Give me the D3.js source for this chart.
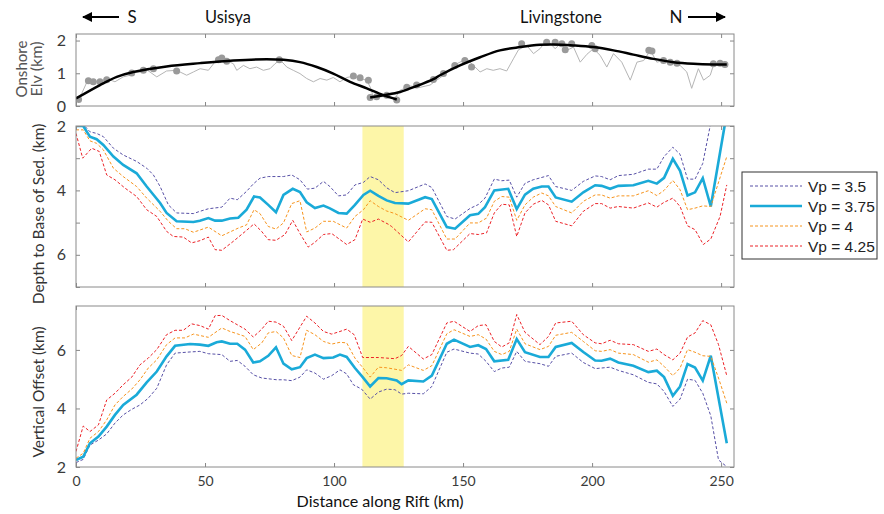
<!DOCTYPE html>
<html>
<head>
<meta charset="utf-8">
<script src="https://cdn.jsdelivr.net/npm/d3@7"></script>
<style>
  body { margin: 0; background: #fff; }
  svg text { font-family: Lato, "Noto Sans", sans-serif; fill: #333; }
  .tick line { stroke: #888; }
  .tick text { font-size: 14px; fill: #3a3a3a; font-family: Lato, "Noto Sans", sans-serif; }
</style>
</head>
<body>
<div id="chart"></div>
<script>
// Profil topo onshore (km, km)
const elevProfile = [[0,0.23],[2.2,0.38],[4.4,0.76],[6.7,0.74],[9.3,0.74],[11.9,0.84],[15.1,0.74],[18.3,0.89],[20.9,0.94],[22.2,1.04],[24.8,1.04],[27.4,1.11],[31.3,0.89],[35.1,1.07],[39,1.09],[42.9,0.94],[45.5,1.04],[48.1,1.14],[51.3,1.09],[54.5,1.41],[58.4,1.39],[61,1.29],[62.3,1.09],[64.9,1.24],[67.4,1.14],[70,1.19],[72.6,1.09],[75.2,1.14],[77.1,1.29],[79.1,1.41],[81.7,1.19],[84.2,1.09],[86.8,0.99],[89.4,0.84],[92,0.74],[94.6,0.84],[97.2,0.79],[99.7,0.87],[102.3,0.74],[104.9,0.87],[107.5,0.91],[110.1,0.84],[112.7,0.79],[114.6,0.48],[115,0.26],[118,0.28],[121,0.3],[123.5,0.22],[125.6,0.48],[129.5,0.61],[133.3,0.57],[137.2,0.64],[139.8,0.79],[143.7,1.01],[146.3,1.24],[148.8,1.34],[151.4,1.44],[154,1.24],[156.6,1.04],[159.2,1.14],[161.7,1.09],[164.3,1.14],[166.9,1.07],[169.5,1.44],[171.5,1.72],[174.7,1.85],[177.3,1.6],[179.8,1.75],[181.8,1.95],[183.7,1.92],[185.7,1.75],[187.6,1.9],[190.2,1.7],[192.8,1.8],[195.4,1.34],[198,1.58],[200.5,1.75],[203.1,1.55],[205.7,1.19],[208.3,1.6],[211.5,1.34],[214.8,0.79],[217.4,1.34],[220,1.39],[222.6,1.7],[225.1,1.34],[227.7,1.39],[231.5,1.34],[234.1,1.24],[236.7,1.04],[238.6,0.54],[241.2,1.14],[243.2,0.79],[245.8,0.94],[247,1.24],[249.6,1.29],[252.2,1.27]];

const elevDots = [[1,0.2],[4.8,0.77],[6.7,0.74],[9.3,0.74],[11.9,0.8],[21.6,1.01],[26.1,1.09],[30,1.14],[39,1.07],[55.2,1.41],[56.5,1.47],[58.4,1.37],[78.8,1.41],[107.5,0.92],[110.1,0.86],[113.3,0.79],[114,0.26],[116.5,0.28],[120.4,0.33],[124.3,0.18],[128.2,0.57],[132,0.64],[138.5,0.81],[142.4,0.99],[146.8,1.24],[150.7,1.39],[153.3,1.19],[172.7,1.9],[182.4,1.95],[185.7,1.95],[188.3,1.9],[189.6,1.72],[192.1,1.9],[199.9,1.85],[201.2,1.75],[222,1.7],[223.2,1.68],[227.7,1.39],[230.3,1.34],[232.9,1.31],[247,1.29],[249.6,1.31],[251.5,1.27]];

// Courbes lissées (Usisya, Livingstone)
const fitUsisya = [[0,0.23],[9.3,0.64],[15.8,0.89],[22.2,1.04],[35.1,1.21],[48.1,1.31],[61,1.39],[73.9,1.43],[80.4,1.41],[86.8,1.34],[93.3,1.19],[99.7,0.99],[106.2,0.74],[112.7,0.54],[119.1,0.33],[124.3,0.2]];
const fitLivingstone = [[114,0.26],[119.1,0.33],[125.6,0.43],[132,0.61],[138.5,0.82],[141.1,0.94],[148.8,1.24],[156.6,1.49],[164.3,1.7],[172.1,1.8],[179.8,1.87],[185,1.88],[192.8,1.85],[200.5,1.8],[208.3,1.7],[216,1.57],[223.8,1.44],[231.5,1.34],[239.3,1.29],[247,1.27],[252.2,1.27]];

// Profondeur de la base des sédiments (km)
const depth35 = [[0,1.95],[2.8,1.95],[5.4,2.18],[8,2.23],[10.6,2.33],[14.5,2.69],[18.3,2.9],[23.5,3.1],[27.4,3.31],[30,3.52],[32.6,3.88],[35.8,4.45],[39,4.7],[45.5,4.72],[48,4.65],[51.3,4.57],[56.5,4.52],[59.7,4.24],[62.5,4.29],[66.1,4.03],[68.7,3.8],[71.3,3.62],[74.5,3.57],[80.4,3.57],[83.6,3.52],[86.8,3.67],[89.7,3.96],[92.6,3.93],[95.9,3.72],[98.4,3.88],[101.7,4.17],[104.9,4.14],[108.1,3.83],[111.4,3.75],[114,3.57],[117.2,3.67],[120.4,3.92],[123.6,4.07],[128.8,4.01],[135.3,3.8],[137.9,3.91],[143.7,4.81],[146.9,4.89],[152.7,4.56],[155.9,4.44],[158.5,4.24],[162.1,3.65],[165,3.7],[167.9,3.68],[170.8,4.21],[174,3.78],[177.2,3.67],[183.1,3.54],[185.9,3.88],[192.1,4],[196.6,3.72],[201.2,3.55],[203.7,3.57],[207,3.67],[210.2,3.54],[216,3.5],[221.8,3.34],[225.1,3.34],[227.9,2.95],[231.3,2.66],[234.1,2.88],[237,3.65],[239.9,3.65],[242.9,3.16],[246,1.9],[252,1.0]];
const depth375 = [[0,2],[2.8,2],[5.4,2.33],[8,2.41],[10.6,2.59],[14.5,2.95],[18.3,3.21],[23.5,3.47],[27.4,3.88],[32.6,4.39],[35.1,4.7],[39,4.96],[45.5,4.98],[48,4.94],[51.3,4.86],[53.9,4.94],[56.5,4.94],[59.7,4.87],[62.9,4.85],[66.1,4.6],[69,4.19],[71.3,4.22],[74.5,4.45],[77.5,4.68],[80.4,4.14],[84,3.95],[86.8,4.05],[89.4,4.37],[92.6,4.55],[95.9,4.47],[98.4,4.56],[101.7,4.7],[104.9,4.72],[108.1,4.45],[111.4,4.14],[114,4.01],[117.2,4.17],[120.4,4.31],[123.6,4.39],[128.8,4.41],[135.3,4.21],[137.9,4.27],[143.7,5.14],[146.9,5.19],[152.7,4.77],[155.9,4.73],[158.5,4.52],[162.1,4],[167.5,3.95],[170.8,4.58],[174,4.13],[177.2,3.95],[180.5,3.88],[183.1,3.88],[185.9,4.22],[192.1,4.35],[196.6,4.06],[201.2,3.84],[203.7,3.86],[207,3.95],[210.2,3.86],[216,3.84],[221.8,3.7],[225.1,3.79],[227.9,3.61],[231.3,3.02],[234.1,3.39],[237,4.16],[239.9,4.06],[242.9,3.62],[246,4.5],[252,1.7]];
const depth40 = [[0,2.12],[2.8,2.12],[5.4,2.46],[8,2.54],[10.6,2.74],[14.5,3.31],[18.3,3.57],[23.5,3.88],[27.4,4.24],[32.6,4.65],[35.8,4.96],[39,5.19],[42.2,5.19],[45.5,5.3],[51.3,5.14],[56.5,5.41],[62.9,5.17],[66.1,5.07],[69,4.6],[71.3,4.72],[74.5,5.12],[77.5,5.2],[80.4,5.01],[83.6,4.41],[86.8,4.32],[89.4,5.29],[92.6,5.17],[95.9,4.96],[99.7,4.96],[104.9,5.17],[108.1,4.81],[111.4,4.6],[114,4.32],[117.2,4.5],[120.4,4.64],[123.6,4.72],[128.8,4.93],[135.3,4.57],[137.9,4.6],[143.7,5.51],[146.9,5.51],[152.7,5.01],[155.9,5.01],[159.1,4.86],[162.1,4.34],[165,4.19],[167.9,4.21],[170.8,4.93],[174,4.45],[177.2,4.21],[180.5,4.08],[183.1,4.17],[185.9,4.5],[192.1,4.7],[196.6,4.34],[201.2,4.14],[203.7,4.14],[207,4.24],[210.2,4.17],[216,4.17],[221.8,4.01],[225.1,4.16],[227.9,4],[231.3,3.69],[234.1,3.98],[237,4.6],[239.9,4.55],[242.9,4.48],[246,4.5],[252.2,2.95]];
const depth425 = [[0,2.23],[2.6,3],[6.1,2.69],[9,2.79],[11.9,3.52],[15.1,3.67],[19,3.93],[23.5,4.19],[27.4,4.6],[31.3,4.81],[35.1,5.27],[37.7,5.43],[41.6,5.45],[44.8,5.63],[48.1,5.56],[51.3,5.45],[53.9,5.84],[56.5,5.86],[61,5.58],[66.1,5.24],[69,5.04],[71.9,5.27],[74.5,5.53],[77.5,5.55],[81,5.37],[84,4.93],[86.8,5.34],[90,5.76],[92.6,5.61],[95.9,5.37],[99.1,5.34],[104.9,5.68],[108.1,5.53],[111.1,4.89],[114,4.99],[117.2,4.89],[121,5.05],[122.3,5.12],[128.8,5.6],[135.3,4.98],[137.9,4.99],[143.7,5.86],[146.3,5.84],[152.7,5.34],[155.9,5.37],[159.1,5.32],[162.1,4.7],[165,4.43],[167.9,4.45],[170.8,5.43],[174,4.7],[177.2,4.43],[180.5,4.31],[183.1,4.45],[185.9,4.96],[192.1,5.1],[196.6,4.65],[201.2,4.41],[203.7,4.41],[207,4.55],[210.2,4.5],[216,4.55],[221.8,4.39],[225.1,4.52],[227.9,4.37],[231.3,4.24],[234.1,4.5],[237,5.1],[239.9,5.22],[243.1,5.68],[246,5.51],[249.6,4.81],[252.2,3.83]];

// Rejet vertical (km)
const offset35 = [[0,2.15],[2.8,2.26],[5.4,2.75],[8.7,2.92],[11.9,3.13],[15.1,3.5],[18.3,3.78],[21.6,3.97],[24.8,4.12],[28,4.35],[31.3,4.69],[35.1,5.49],[38.4,5.89],[44.2,5.93],[48,5.95],[51.3,5.87],[56.5,5.84],[59.7,5.61],[62.5,5.64],[65.5,5.44],[68.7,5.15],[72,5.04],[77.8,4.98],[80.4,4.98],[83.6,4.95],[86.8,5.07],[89.4,5.32],[92.6,5.21],[95.9,5],[99.1,5.12],[102.3,5.32],[104.9,5.18],[107.5,4.81],[110.7,4.66],[114,4.32],[117.2,4.56],[120.4,4.66],[123.6,4.64],[126.2,4.49],[128.8,4.52],[134.6,4.5],[137.9,4.75],[143.7,5.92],[146.5,6.03],[152.7,5.89],[155.9,5.86],[158.9,5.61],[162.1,5.26],[165,5.38],[167.9,5.41],[170.8,5.95],[174,5.61],[179.8,5.53],[183.1,5.44],[185.9,5.78],[192.1,5.89],[196.6,5.57],[201.2,5.36],[207,5.41],[210.2,5.3],[216,5.15],[221.8,4.89],[225.1,4.84],[227.9,4.58],[231.3,4.07],[234.1,4.32],[237,5],[239.9,4.96],[242.9,4.52],[246,3.75],[249,2.24],[252.2,2.01]];
const offset375 = [[0,2.24],[2.8,2.35],[5.4,2.81],[8.7,3.04],[11.9,3.38],[15.1,3.78],[18.3,4.12],[23.5,4.47],[27.4,4.89],[31.3,5.26],[35.1,5.78],[38.4,6.14],[44.2,6.2],[48,6.18],[51.3,6.14],[54.5,6.26],[56.5,6.29],[59.7,6.21],[62.5,6.21],[65.5,6.01],[68.7,5.57],[71.3,5.61],[74.5,5.8],[77.5,6.09],[80.4,5.53],[83.6,5.34],[86.8,5.41],[89.4,5.72],[92.6,5.84],[95.9,5.72],[99.7,5.74],[102.3,5.84],[104.9,5.76],[108.1,5.38],[111.1,5.07],[114,4.75],[117.2,5.04],[120.4,5.03],[124.3,4.96],[126.2,4.83],[128.8,4.96],[134.6,4.92],[137.9,5.12],[143.7,6.21],[146.5,6.35],[152.7,6.1],[155.9,6.16],[158.9,6.03],[162.1,5.61],[167.5,5.66],[170.8,6.37],[174,5.92],[179.8,5.76],[183.1,5.76],[185.9,6.1],[192.1,6.24],[196.6,5.93],[201.2,5.64],[203.7,5.63],[207,5.7],[210.2,5.57],[216,5.46],[221.8,5.24],[225.1,5.29],[227.9,5.07],[231.3,4.43],[234.1,4.75],[237,5.52],[239.9,5.4],[242.9,4.95],[246,5.8],[252.2,2.81]];
const offset40 = [[0,2.3],[2.8,2.47],[5.4,2.98],[8.7,3.21],[11.9,3.61],[15.1,4.12],[18.3,4.41],[21.6,4.66],[24.8,4.98],[28,5.38],[31.3,5.66],[35.1,6.18],[38.4,6.41],[42.2,6.41],[45.5,6.54],[51.3,6.43],[56.5,6.75],[59.7,6.63],[62.5,6.55],[65.5,6.46],[68.7,6.01],[72,6.24],[74.5,6.58],[77.5,6.63],[80.4,6.41],[83.6,5.81],[86.8,5.74],[89.4,6.67],[92.6,6.52],[95.9,6.29],[99.1,6.2],[102.3,6.26],[104.9,6.24],[108.1,5.72],[111.1,5.4],[114,5.07],[117.2,5.41],[120.4,5.39],[126.2,5.3],[128.8,5.49],[134.6,5.3],[137.9,5.46],[143.7,6.55],[146.5,6.69],[152.7,6.46],[155.9,6.52],[158.9,6.37],[162.1,5.95],[165,5.84],[167.9,5.95],[170.8,6.71],[174,6.21],[179.8,6.01],[183.1,6.12],[185.9,6.5],[192.1,6.6],[196.6,6.29],[201.2,5.97],[203.7,5.95],[207,6.01],[210.2,5.89],[216,5.84],[221.8,5.58],[225.1,5.66],[227.9,5.44],[231.3,5.12],[234.1,5.38],[237,6.01],[239.9,5.92],[242.9,5.8],[246,5.78],[249,5.04],[252.2,4.18]];
const offset425 = [[0,2.53],[2.8,3.4],[5.4,3.21],[8.7,3.44],[11.9,4.29],[15.1,4.52],[18.3,4.81],[21.6,5.07],[24.8,5.49],[28,5.72],[31.3,6.01],[35.1,6.52],[38.4,6.67],[41.6,6.67],[44.8,6.89],[48.1,6.83],[51.3,6.71],[53.9,7.17],[56.5,7.18],[59.7,7],[62.5,6.86],[65.5,6.71],[68.7,6.44],[72,6.71],[74.5,6.98],[77.5,6.95],[80.4,6.81],[83.6,6.32],[86.6,6.75],[89.4,7.15],[92.6,6.92],[95.9,6.63],[99.1,6.54],[102.3,6.63],[104.9,6.71],[107.8,6.52],[111.1,5.74],[114,5.74],[117.2,5.74],[120.4,5.72],[123.6,5.7],[126.2,5.81],[128.8,6.12],[134.6,5.69],[137.9,5.84],[143.7,6.92],[146.5,6.98],[152.7,6.63],[155.9,6.83],[158.9,6.86],[162.1,6.29],[165,6.1],[167.9,6.24],[170.8,7.21],[174,6.6],[179.8,6.18],[183.1,6.46],[185.9,6.92],[192.1,6.98],[196.6,6.52],[201.2,6.24],[203.7,6.21],[207,6.33],[210.2,6.21],[216,6.18],[221.8,5.95],[225.1,6.03],[227.9,5.84],[231.3,5.66],[234.1,5.89],[237,6.44],[239.9,6.58],[242.9,7],[246,6.86],[249,6.18],[252.2,5.12]];

const vpLabels = ["Vp = 3.5", "Vp = 3.75", "Vp = 4", "Vp = 4.25"];
const vpColors = ["#5750a6", "#1aaad8", "#f7941d", "#ec2227"];
const band = [111, 127]; // zone surlignée en jaune (km)
const xTicks = [0, 50, 100, 150, 200, 250];

const width = 884, height = 514;
const svg = d3.select("#chart").append("svg")
  .attr("width", width).attr("height", height);

const x = d3.scaleLinear().domain([0, 255]).range([76, 734]);

// ajuste la taille de police pour une largeur donnée
const fit = (sel, w) => {
  const fs = parseFloat(sel.style("font-size"));
  const len = sel.node().getComputedTextLength();
  if (len > 0) sel.style("font-size", (fs * w / len).toFixed(2) + "px");
  return sel;
};

// Les trois panneaux
const panels = [
  { id: "top", y: d3.scaleLinear().domain([0, 2.2]).range([106, 34]), ticks: [0, 1, 2], labels: [0, 1, 2] },
  { id: "mid", y: d3.scaleLinear().domain([2, 7]).range([126, 287]), ticks: [2, 3, 4, 5, 6, 7], labels: [2, 4, 6] },
  { id: "bot", y: d3.scaleLinear().domain([2, 7.5]).range([467, 306]), ticks: [2, 4, 6], labels: [2, 4, 6] },
];

const line = (y) => d3.line().x((d) => x(d[0])).y((d) => y(d[1]));

panels.forEach((p) => {
  const [y0, y1] = d3.extent(p.y.range());
  const g = svg.append("g").attr("id", p.id);

  svg.append("clipPath").attr("id", "clip-" + p.id)
    .append("rect").attr("x", 76).attr("y", y0).attr("width", 658).attr("height", y1 - y0);

  const plot = g.append("g").attr("clip-path", `url(#clip-${p.id})`);

  if (p.id !== "top") {
    plot.append("rect")
      .attr("x", x(band[0])).attr("width", x(band[1]) - x(band[0]))
      .attr("y", y0).attr("height", y1 - y0)
      .attr("fill", "#fdf6a8");
  }

  // axes (ticks vers l'intérieur)
  const fmt = (d) => (p.labels.includes(d) ? d : "");
  const ax = (a) => a.tickSize(-4).tickSizeOuter(0);
  g.append("g").attr("transform", "translate(76,0)")
    .call(ax(d3.axisLeft(p.y)).tickValues(p.ticks).tickFormat(fmt).tickPadding(10))
    .call((s) => s.select(".domain").remove())
    .selectAll("text").style("font-size", "16px");
  g.append("g").attr("transform", "translate(734,0)")
    .call(ax(d3.axisRight(p.y)).tickValues(p.ticks).tickFormat(""))
    .call((s) => s.select(".domain").remove());
  g.append("g").attr("transform", `translate(0,${y1})`)
    .call(ax(d3.axisBottom(x)).tickValues(xTicks).tickFormat(p.id === "bot" ? (d) => d : "").tickPadding(9))
    .call((s) => s.select(".domain").remove());
  g.append("g").attr("transform", `translate(0,${y0})`)
    .call(ax(d3.axisTop(x)).tickValues(xTicks).tickFormat(""))
    .call((s) => s.select(".domain").remove());

  p.plot = plot;
  p.frame = () => g.append("rect")
    .attr("x", 76).attr("y", y0).attr("width", 658).attr("height", y1 - y0)
    .attr("fill", "none").attr("stroke", "#8a8a8a").attr("stroke-width", 1);
});

// Panneau du haut: topo
const topPanel = panels[0];
topPanel.plot.append("path").datum(elevProfile)
  .attr("d", line(topPanel.y)).attr("fill", "none")
  .attr("stroke", "#b5b5b5").attr("stroke-width", 1);
topPanel.plot.selectAll("circle").data(elevDots).enter().append("circle")
  .attr("cx", (d) => x(d[0])).attr("cy", (d) => topPanel.y(d[1]))
  .attr("r", 3.5).attr("fill", "#9a9a9a");
[fitUsisya, fitLivingstone].forEach((f) => {
  topPanel.plot.append("path").datum(f)
    .attr("d", line(topPanel.y).curve(d3.curveCatmullRom)).attr("fill", "none")
    .attr("stroke", "#000").attr("stroke-width", 2.5);
});

// Panneaux du milieu et du bas
const drawSeries = (p, series) => {
  series.forEach((s, i) => {
    const solid = i === 1;
    p.plot.append("path").datum(s)
      .attr("d", line(p.y)).attr("fill", "none")
      .attr("stroke", vpColors[i])
      .attr("stroke-width", solid ? 2.6 : 1)
      .attr("stroke-dasharray", solid ? null : "3,2");
  });
};
drawSeries(panels[1], [depth35, depth375, depth40, depth425]);
drawSeries(panels[2], [offset35, offset375, offset40, offset425]);

panels.forEach((p) => p.frame());

// Légende
const leg = svg.append("g").attr("transform", "translate(742,172)");
leg.append("rect").attr("width", 135).attr("height", 87)
  .attr("fill", "#fff").attr("stroke", "#333").attr("stroke-width", 1);
vpLabels.forEach((lab, i) => {
  const yy = 14 + i * 20;
  leg.append("line").attr("x1", 8).attr("x2", 60).attr("y1", yy).attr("y2", yy)
    .attr("stroke", vpColors[i])
    .attr("stroke-width", i === 1 ? 2.6 : 1)
    .attr("stroke-dasharray", i === 1 ? null : "3,2");
  leg.append("text").attr("x", 66).attr("y", yy).attr("dy", "0.36em")
    .style("font-family", "'Liberation Sans', Arial, sans-serif")
    .style("font-size", "15.5px").style("fill", "#222").text(lab);
});

// Titres d'axes
const vLabel = (t, xx, yy, fs, col) => svg.append("text")
  .attr("transform", `translate(${xx},${yy}) rotate(-90)`)
  .attr("text-anchor", "middle").attr("dominant-baseline", "central")
  .style("font-size", fs + "px").style("fill", col).text(t);
fit(vLabel("Onshore", 21, 69, 15, "#555"), 57);
fit(vLabel("Elv (km)", 35, 69, 15, "#555"), 55);
vLabel("Depth to Base of Sed. (km)", 38, 214, 15.5, "#333");
vLabel("Vertical Offset (km)", 38, 392, 15.5, "#333");
fit(svg.append("text").attr("x", 380).attr("y", 507)
  .attr("text-anchor", "middle")
  .style("font-size", "16px").style("fill", "#111").text("Distance along Rift (km)"), 167);

// Annotations du haut
svg.append("defs").append("marker").attr("id", "head")
  .attr("viewBox", "0 0 10 10").attr("refX", 9).attr("refY", 5)
  .attr("markerWidth", 5).attr("markerHeight", 5).attr("orient", "auto")
  .append("path").attr("d", "M0,0L10,5L0,10z").attr("fill", "#000");
svg.append("line").attr("x1", 119).attr("x2", 83).attr("y1", 17).attr("y2", 17)
  .attr("stroke", "#000").attr("stroke-width", 2).attr("marker-end", "url(#head)");
svg.append("line").attr("x1", 688).attr("x2", 725).attr("y1", 17).attr("y2", 17)
  .attr("stroke", "#000").attr("stroke-width", 2).attr("marker-end", "url(#head)");
[["S", 132, 0], ["Usisya", 228, 46], ["Livingstone", 561, 82], ["N", 676, 0]].forEach(([t, xx, w]) => {
  const el = svg.append("text").attr("x", xx).attr("y", 23).attr("text-anchor", "middle")
    .style("font-size", "17px").style("fill", "#111").text(t);
  if (w) fit(el, w);
});
</script>
</body>
</html>
